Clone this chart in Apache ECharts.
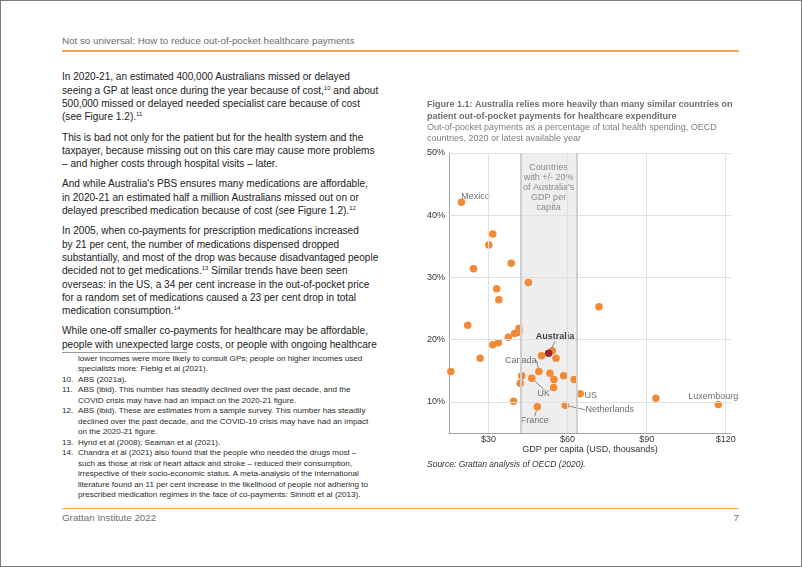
<!DOCTYPE html>
<html><head><meta charset="utf-8">
<script src="https://cdn.jsdelivr.net/npm/echarts@6/dist/echarts.min.js"></script>
<style>
html,body{margin:0;padding:0;background:#fff;}
#page{position:relative;width:802px;height:567px;overflow:hidden;font-family:'Liberation Sans',Arial,Helvetica,sans-serif;background:#fff;}
#frame{position:absolute;left:0;top:0;width:800px;height:565px;border:1px solid #7a7a7a;}
.t{position:absolute;white-space:nowrap;}
.body{left:62px;font-size:10.1px;line-height:13.3px;color:#222;}
.fn{left:62px;font-size:8.1px;line-height:10.5px;color:#2a2a2a;}
.fn div{position:relative;padding-left:16px;}
.fn span.n{position:absolute;left:0;top:0;}
sup{font-size:6px;line-height:0;vertical-align:baseline;position:relative;top:-4px;}
#chart{position:absolute;left:0;top:0;width:802px;height:567px;}
</style></head>
<body><div id="page">
<div id="frame"></div>
<div class="t" style="left:62px;top:35px;font-size:9.8px;line-height:12px;color:#6d6e71;">Not so universal: How to reduce out-of-pocket healthcare payments</div>
<div class="t" style="left:62px;top:50px;width:677px;height:1.5px;background:#F3A55A;"></div>

<div class="t body" style="top:70.35px;">In 2020-21, an estimated 400,000 Australians missed or delayed<br>seeing a GP at least once during the year because of cost,<sup>10</sup> and about<br>500,000 missed or delayed needed specialist care because of cost<br>(see Figure 1.2).<sup>11</sup></div>
<div class="t body" style="top:130.55px;">This is bad not only for the patient but for the health system and the<br>taxpayer, because missing out on this care may cause more problems<br>– and higher costs through hospital visits – later.</div>
<div class="t body" style="top:177.45px;">And while Australia's PBS ensures many medications are affordable,<br>in 2020-21 an estimated half a million Australians missed out on or<br>delayed prescribed medication because of cost (see Figure 1.2).<sup>12</sup></div>
<div class="t body" style="top:224.35px;">In 2005, when co-payments for prescription medications increased<br>by 21 per cent, the number of medications dispensed dropped<br>substantially, and most of the drop was because disadvantaged people<br>decided not to get medications.<sup>13</sup> Similar trends have been seen<br>overseas: in the US, a 34 per cent increase in the out-of-pocket price<br>for a random set of medications caused a 23 per cent drop in total<br>medication consumption.<sup>14</sup></div>
<div class="t body" style="top:324.45px;">While one-off smaller co-payments for healthcare may be affordable,<br>people with unexpected large costs, or people with ongoing healthcare</div>

<div class="t" style="left:62px;top:352px;width:125px;height:1px;background:#9a9a9a;"></div>
<div class="t fn" style="top:353.75px;">
<div>lower incomes were more likely to consult GPs; people on higher incomes used<br>specialists more: Fiebig et al (2021).</div>
<div><span class="n">10.</span>ABS (2021a).</div>
<div><span class="n">11.</span>ABS (ibid). This number has steadily declined over the past decade, and the<br>COVID crisis may have had an impact on the 2020-21 figure.</div>
<div><span class="n">12.</span>ABS (ibid). These are estimates from a sample survey. This number has steadily<br>declined over the past decade, and the COVID-19 crisis may have had an impact<br>on the 2020-21 figure.</div>
<div><span class="n">13.</span>Hynd et al (2008); Seaman et al (2021).</div>
<div><span class="n">14.</span>Chandra et al (2021) also found that the people who needed the drugs most –<br>such as those at risk of heart attack and stroke – reduced their consumption,<br>irrespective of their socio-economic status. A meta-analysis of the international<br>literature found an 11 per cent increase in the likelihood of people not adhering to<br>prescribed medication regimes in the face of co-payments: Sinnott et al (2013).</div>
</div>

<div class="t" style="left:62px;top:507.5px;width:677px;height:1.5px;background:#F3A55A;"></div>
<div class="t" style="left:62px;top:512px;font-size:9.8px;line-height:12px;color:#6d6e71;">Grattan Institute 2022</div>
<div class="t" style="left:700px;top:512px;width:39px;text-align:right;font-size:9.8px;line-height:12px;color:#6d6e71;">7</div>

<div id="chart"></div>
</div>
<script>
// ---- data ----
const countries = ['Mexico','','','','','','','','','','','','','','','','Australia','','','','','','Canada','','','','','UK','','','','US','','France','Netherlands','','Luxembourg'];
const gdpPerCapita = [19.7,31.6,30.1,38.6,24.3,45.1,33.1,33.9,71.9,22.1,41.5,41.5,39.9,37.5,33.7,31.6,52.8,54.2,50.1,55.6,26.8,15.7,49.1,53.3,58.5,42.6,54.8,46.4,62.5,42.0,54.7,64.8,39.5,48.5,59.1,93.5,117.2];
const oopShare = [42.1,37.0,35.2,32.3,31.4,29.2,28.2,26.4,25.3,22.3,21.8,21.2,21.0,20.4,19.5,19.2,17.8,18.2,17.4,17.0,17.0,14.9,14.9,14.6,14.2,14.2,13.6,13.8,13.6,13.0,12.3,11.3,10.1,9.2,9.45,10.6,9.6];
const xTicks = [30,60,90,120];
const yTicks = [10,20,30,40,50];
const bandShare = 0.2; // +/- 20% of Australia's GDP per capita

// ---- label placement (style) ----
const labelOffsets = {Mexico:[14,-6], Australia:[6.5,-16.5], Canada:[-18,-11], UK:[12,15.5], France:[-2.5,14], US:[10.5,1.5], Netherlands:[44.5,4.5], Luxembourg:[-5,-7.5]};
const leaderLines = ['Australia','Canada','UK','France','Netherlands'];

const FONT = "'Liberation Sans', Arial, Helvetica, sans-serif";
const ausIdx = countries.indexOf('Australia');
const ausGdp = gdpPerCapita[ausIdx];

function item(i){
  const o = {name: countries[i], value:[gdpPerCapita[i], oopShare[i]]};
  if (countries[i]) {
    o.label = {show:true};
    if (leaderLines.includes(countries[i])) o.labelLine = {show:true};
  }
  return o;
}
const idx = countries.map((c,i)=>i);
const otherData = idx.filter(i=>i!==ausIdx).map(item);
const ausData = [item(ausIdx)];

const layoutFn = function(p){
  const o = labelOffsets[p.text];
  return o ? {dx:o[0], dy:o[1]} : {};
};

const chart = echarts.init(document.getElementById('chart'), null, {renderer:'canvas'});
chart.setOption({
  animation:false,
  backgroundColor:'transparent',
  textStyle:{fontFamily:FONT},
  title:{
    left:427, top:99.4, itemGap:0, padding:0,
    text:'Figure 1.1: Australia relies more heavily than many similar countries on\npatient out-of-pocket payments for healthcare expenditure',
    subtext:'Out-of-pocket payments as a percentage of total health spending, OECD\ncountries, 2020 or latest available year',
    textStyle:{fontFamily:FONT, fontSize:9, fontWeight:'bold', color:'#6d6e71', lineHeight:11.2},
    subtextStyle:{fontFamily:FONT, fontSize:9, color:'#7d7e81', lineHeight:11.2}
  },
  graphic:[{
    type:'text', left:427, top:460,
    style:{text:'Source: Grattan analysis of OECD (2020).', font:"italic 8.5px 'Liberation Sans', Arial, sans-serif", fill:'#333'}
  }],
  grid:{left:449, top:153, width:282, height:280, containLabel:false},
  xAxis:{
    type:'value', min:15, max:122,
    name:'GDP per capita (USD, thousands)', nameLocation:'middle', nameGap:11,
    nameTextStyle:{fontFamily:FONT, fontSize:9, color:'#333'},
    axisLine:{show:true, lineStyle:{color:'#a5a5a5', width:1}},
    axisTick:{show:false, customValues:xTicks},
    axisLabel:{customValues:xTicks, formatter:'${value}', fontFamily:FONT, fontSize:9, color:'#333', margin:2},
    splitLine:{show:false}
  },
  yAxis:{
    type:'value', min:5, max:50,
    axisLine:{show:true, lineStyle:{color:'#a5a5a5', width:1}},
    axisTick:{show:false, customValues:yTicks},
    axisLabel:{customValues:yTicks, formatter:'{value}%', fontFamily:FONT, fontSize:9, color:'#333', margin:4},
    splitLine:{show:false}
  },
  series:[
    {
      type:'scatter', data:[], z:1, silent:true,
      markLine:{
        silent:true, symbol:['none','none'], animation:false,
        label:{show:false},
        lineStyle:{color:'#e0e0e0', width:1, type:'solid'},
        emphasis:{disabled:true},
        data: xTicks.map(v=>({xAxis:v})).concat(yTicks.map(v=>({yAxis:v})))
      }
    },
    {
      type:'scatter', data:[], z:2, silent:true,
      markArea:{
        silent:true,
        itemStyle:{color:'rgba(200,200,200,0.3)'},
        label:{show:true, position:'insideTop', distance:10, color:'#8a8a8a', fontFamily:FONT, fontSize:9, lineHeight:10, align:'center',
          formatter:"Countries\nwith +/- 20%\nof Australia's\nGDP per\ncapita"},
        data:[[{xAxis:ausGdp*(1-bandShare)},{xAxis:ausGdp*(1+bandShare)}]]
      },
      markLine:{
        silent:true, symbol:['none','none'], animation:false,
        label:{show:false},
        lineStyle:{color:'#cfcfcf', width:2, type:'solid'},
        emphasis:{disabled:true},
        data:[{xAxis:ausGdp*(1-bandShare)},{xAxis:ausGdp*(1+bandShare)}]
      }
    },
    {
      type:'scatter', z:3, symbolSize:7.5,
      itemStyle:{color:'#F28A35', opacity:1},
      label:{show:false, position:'inside', formatter:'{b}', color:'#6e6e6e', fontFamily:FONT, fontSize:9},
      labelLine:{show:false, lineStyle:{color:'#8a8a8a', width:1}},
      labelLayout:layoutFn,
      data:otherData
    },
    {
      type:'scatter', z:4, symbolSize:7.5,
      itemStyle:{color:'#A3262A', opacity:1},
      label:{show:false, position:'inside', formatter:'{b}', color:'#3f3f3f', fontWeight:'bold', fontFamily:FONT, fontSize:9},
      labelLine:{show:false, lineStyle:{color:'#8a8a8a', width:1}},
      labelLayout:layoutFn,
      data:ausData
    }
  ]
});
</script>
</body></html>
